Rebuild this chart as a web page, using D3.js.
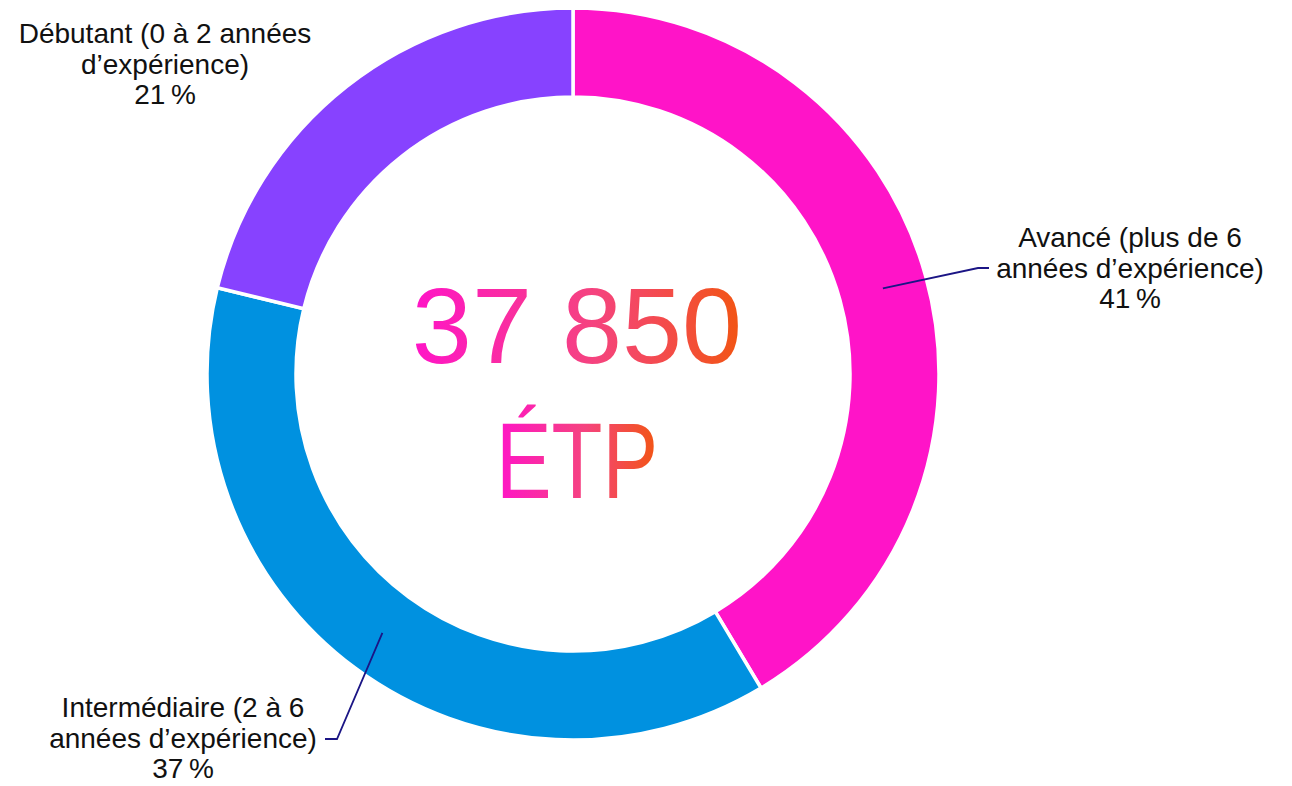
<!DOCTYPE html>
<html>
<head>
<meta charset="utf-8">
<script src="https://cdn.jsdelivr.net/npm/d3@7"></script>
<style>
  html, body { margin: 0; padding: 0; background: #fff; }
  svg { display: block; }
  .lbl { font-family: "Liberation Sans", Arial, sans-serif; font-size: 28px; fill: #111; }
  .big { font-family: "Liberation Sans", Arial, sans-serif; font-size: 108px; }
</style>
</head>
<body>
<svg id="chart" width="1292" height="786"></svg>
<script>
  // categories, clockwise from the top
  var categories = ['Avancé', 'Intermédiaire', 'Débutant'];
  var labelLines = [
    ['Avancé (plus de 6', 'années d’expérience)'],
    ['Intermédiaire (2 à 6', 'années d’expérience)'],
    ['Débutant (0 à 2 années', 'd’expérience)']
  ];
  var shares = [41, 37, 21];
  var colorList = ['#ff14c8', '#0091e0', '#8742ff'];
  var totalLines = ['37 850', 'ÉTP'];

  var cx = 573, cy = 374;
  var outerR = 366, innerR = 277;

  var svg = d3.select('#chart');

  var defs = svg.append('defs');
  var grad = defs.append('linearGradient')
    .attr('id', 'totalGrad')
    .attr('x1', 0).attr('x2', 1).attr('y1', 0).attr('y2', 0);
  grad.append('stop').attr('offset', '0%').attr('stop-color', '#ff14c8');
  grad.append('stop').attr('offset', '55%').attr('stop-color', '#f5437f');
  grad.append('stop').attr('offset', '100%').attr('stop-color', '#f25512');

  var color = d3.scaleOrdinal().domain(categories).range(colorList);

  var data = categories.map(function(c, i) {
    return { name: c, value: shares[i], lines: labelLines[i] };
  });

  var pie = d3.pie()
    .sort(null)
    .value(function(d) { return d.value; });

  var arc = d3.arc()
    .innerRadius(innerR)
    .outerRadius(outerR);

  var g = svg.append('g')
    .attr('transform', 'translate(' + cx + ',' + cy + ')');

  var arcs = pie(data);

  g.selectAll('path.slice')
    .data(arcs)
    .enter().append('path')
    .attr('class', 'slice')
    .attr('d', arc)
    .attr('fill', function(d) { return color(d.data.name); })
    .attr('stroke', '#fff')
    .attr('stroke-width', 3.5);

  // label placement (relative to the donut center)
  var labelPos = {
    'Avancé': { x: 557, y: -127, elbow: [405, -106], end: [416, -106] },
    'Intermédiaire': { x: -390, y: 343, elbow: [-236, 365], end: [-248, 365] },
    'Débutant': { x: -408, y: -331, elbow: null }
  };
  var lineH = 30.5;

  arcs.forEach(function(d) {
    var p = labelPos[d.data.name];
    if (p.elbow) {
      var c = arc.centroid(d);
      g.append('polyline')
        .attr('points', [c, p.elbow, p.end].map(function(q) { return q.join(','); }).join(' '))
        .attr('fill', 'none')
        .attr('stroke', '#1b1585')
        .attr('stroke-width', 1.8);
    }
    var t = g.append('text')
      .attr('class', 'lbl')
      .attr('text-anchor', 'middle');
    var lines = d.data.lines.concat([d3.format('d')(d.data.value) + '\u202f%']);
    lines.forEach(function(l, i) {
      t.append('tspan')
        .attr('x', p.x)
        .attr('y', p.y + i * lineH)
        .text(l);
    });
  });

  // total in the middle
  g.selectAll('text.big')
    .data(totalLines)
    .enter().append('text')
    .attr('class', 'big')
    .attr('text-anchor', 'middle')
    .attr('x', 4)
    .attr('y', function(d, i) { return -11 + i * 135; })
    .attr('fill', 'url(#totalGrad)')
    .each(function(d, i) {
      // the unit line is set narrower, as in the original typeface
      if (i === 1) {
        d3.select(this)
          .attr('textLength', 162)
          .attr('lengthAdjust', 'spacingAndGlyphs');
      }
    })
    .text(function(d) { return d; });
</script>
</body>
</html>
